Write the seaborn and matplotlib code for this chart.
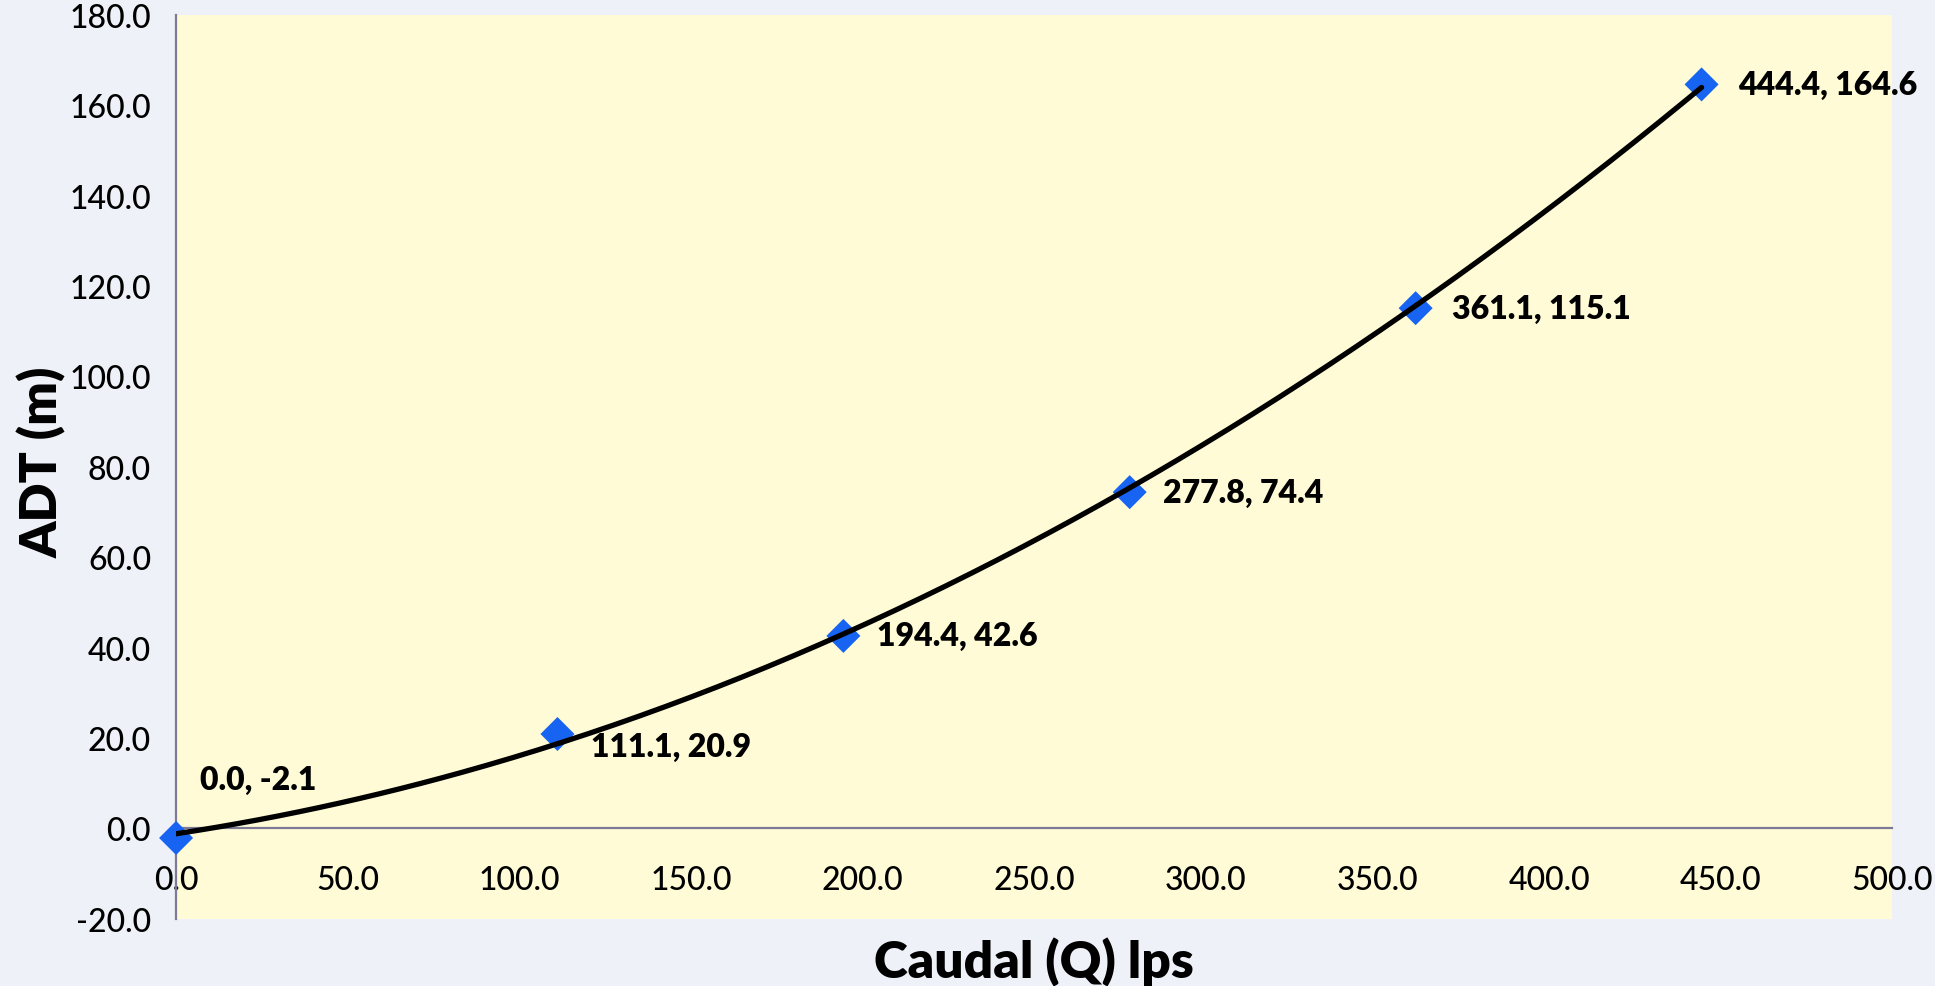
import numpy as np
import pandas as pd
import matplotlib
matplotlib.use("Agg")
import matplotlib.pyplot as plt
import seaborn as sns

# Pump curve: flow (lps) vs total dynamic head (m)
caudal = [0.0, 111.1, 194.4, 277.8, 361.1, 444.4]
adt = [-2.1, 20.9, 42.6, 74.4, 115.1, 164.6]
x_ticks = [0, 50, 100, 150, 200, 250, 300, 350, 400, 450, 500]
y_ticks = [-20, 0, 20, 40, 60, 80, 100, 120, 140, 160, 180]

# label offsets (points) for each point annotation
label_offsets = [(17, 42), (24, -9), (24, 0), (24, 0), (26, 0), (26, 0)]

sns.set_style("white")
plt.rcParams["font.family"] = ["Lato", "DejaVu Sans"]
plt.rcParams["text.color"] = "black"
plt.rcParams["axes.labelcolor"] = "black"

fig = plt.figure(figsize=(19.35, 9.87), dpi=100, facecolor="#EEF1F7")
ax = fig.add_axes([0.091, 0.068, 0.887, 0.916])
ax.set_facecolor("#FFFBD6")

df = pd.DataFrame({"Q": caudal, "ADT": adt})

# second-order trendline through the points
coef = np.polyfit(df["Q"], df["ADT"], 2)
q_fit = np.linspace(df["Q"].min(), df["Q"].max(), 300)
fit = pd.DataFrame({"Q": q_fit, "ADT": np.polyval(coef, q_fit)})

sns.scatterplot(data=df, x="Q", y="ADT", marker="D", s=300, color="#1763F2",
                edgecolor="none", ax=ax, zorder=3, clip_on=False)
sns.lineplot(data=fit, x="Q", y="ADT", color="black", linewidth=3.8, ax=ax,
             zorder=4, sort=True)

for (q, h), (dx, dy) in zip(zip(caudal, adt), label_offsets):
    ax.annotate(f"{q:.1f}, {h:.1f}", xy=(q, h), xytext=(dx, dy),
                textcoords="offset points", ha="left", va="center",
                fontsize=23, fontweight="heavy", color="black", zorder=5)

ax.set_xlim(0, 500)
ax.set_ylim(-20, 180)
ax.set_xticks(x_ticks)
ax.set_yticks(y_ticks)
ax.set_xticklabels([f"{v:.1f}" for v in x_ticks])
ax.set_yticklabels([f"{v:.1f}" for v in y_ticks])

spine_color = "#7E7A96"
ax.spines["top"].set_visible(False)
ax.spines["right"].set_visible(False)
ax.spines["bottom"].set_position(("data", 0))
for s in ("left", "bottom"):
    ax.spines[s].set_color(spine_color)
    ax.spines[s].set_linewidth(1.6)

ax.tick_params(axis="both", direction="out", length=8, width=1.6,
               color=spine_color, labelsize=23, labelcolor="black")
for lbl in ax.get_xticklabels() + ax.get_yticklabels():
    lbl.set_fontweight("medium")
ax.tick_params(axis="x", pad=18)
ax.tick_params(axis="y", pad=10)

ax.set_xlabel("Caudal (Q) lps", fontsize=37, fontweight="heavy", color="black")
ax.set_ylabel("ADT (m)", fontsize=37, fontweight="heavy", color="black")
ax.xaxis.set_label_coords(0.5, -0.02)
ax.yaxis.set_label_coords(-0.064, 0.506)

fig.savefig("out.png", dpi=100, facecolor=fig.get_facecolor())
